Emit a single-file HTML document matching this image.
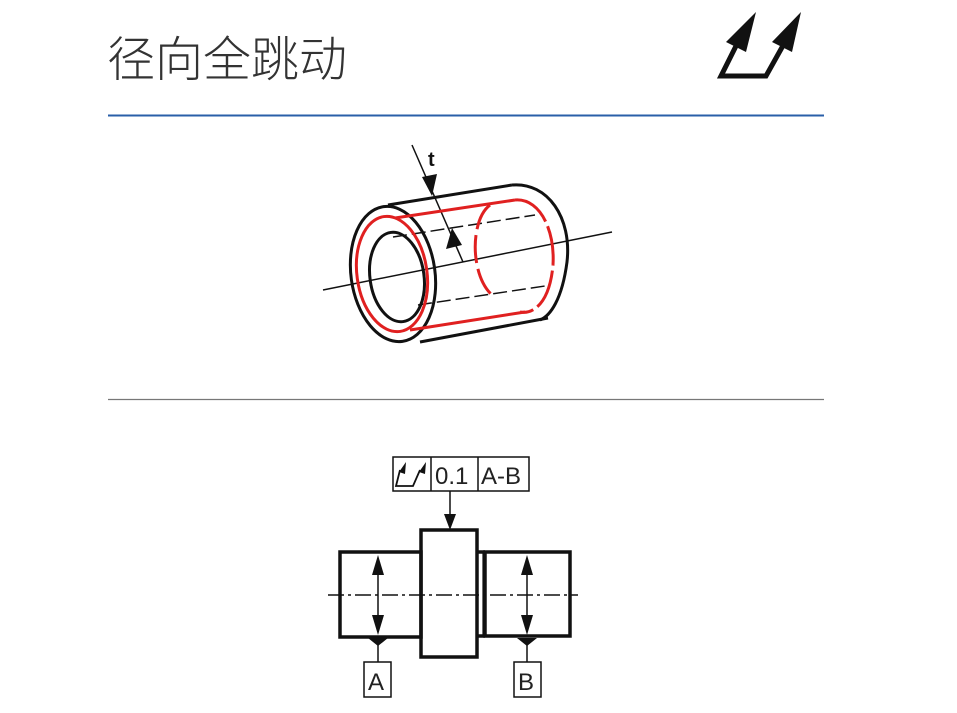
<!DOCTYPE html>
<html><head><meta charset="utf-8"><style>
body{margin:0;background:#fff;width:957px;height:713px;overflow:hidden}
.t{position:absolute;left:107px;top:20px;font-family:"Liberation Sans","Noto Sans CJK SC",sans-serif;font-size:48px;color:#333;font-weight:300}
</style></head><body>
<div class="t">径向全跳动</div>
<svg width="957" height="713" style="position:absolute;left:0;top:0">
<line x1="108" y1="115.5" x2="824" y2="115.5" stroke="#2a5fa8" stroke-width="2"/>
<line x1="108" y1="399.5" x2="824" y2="399.5" stroke="#777" stroke-width="1.2"/>
<!-- title icon -->
<g fill="#111" stroke="#111">
<polyline points="738,42 721,76 766,76 785,42" fill="none" stroke-width="5"/>
<polygon points="756,12 726,42 746,52" stroke="none"/>
<polygon points="801,12 772,42 792,52" stroke="none"/>
</g>
<!-- cylinder -->
<g fill="none" stroke="#111" stroke-width="3">
<path d="M388,205 L512,185"/>
<path d="M420,342 L548,318"/>
<path d="M512,185 C548,182 572,218 567,262 C562,300 550,316 540,320"/>
<ellipse cx="393" cy="274" rx="42" ry="68" transform="rotate(-8 393 274)" fill="#fff"/>
<ellipse cx="397" cy="277" rx="27" ry="45" transform="rotate(-8 397 277)"/>
</g>
<g fill="none" stroke="#111" stroke-width="1.5">
<line x1="323" y1="290" x2="612" y2="232"/>
<path d="M393,237 L535,215 M418,305 L545,286" stroke-dasharray="14,5"/>
<path d="M412,145 L463,262"/>
</g>
<polygon points="432,196 422,177 437,174" fill="#111"/>
<polygon points="452,228 446,249 462,245" fill="#111"/>
<text x="428" y="166" font-family="Liberation Sans,sans-serif" font-size="20" font-weight="bold" fill="#111">t</text>
<g fill="none" stroke="#e02020" stroke-width="3">
<ellipse cx="392" cy="274" rx="35" ry="58" transform="rotate(-8 392 274)"/>
<path d="M395,218 L515,200 M410,330 L525,312"/>
<path d="M515,200 C540,198 555,230 553,265 C550,300 535,315 520,312" stroke-dasharray="40,5"/>
<path d="M490,205 C470,220 470,275 492,295" stroke-dasharray="28,6"/>
</g>
<!-- lower drawing -->
<g fill="none" stroke="#111" stroke-width="3.5">
<rect x="340" y="552" width="81" height="85"/>
<rect x="421" y="530" width="56" height="127"/>
<rect x="485" y="552" width="85" height="84"/>
<line x1="477" y1="552" x2="485" y2="552"/><line x1="477" y1="636" x2="485" y2="636"/>
</g>
<line x1="483" y1="553" x2="483" y2="635" stroke="#111" stroke-width="1.2"/>
<line x1="328" y1="595" x2="578" y2="595" stroke="#111" stroke-width="1.5" stroke-dasharray="16,4,3,4"/>
<g stroke="#111" stroke-width="1.5" fill="none">
<rect x="393" y="457" width="136" height="34"/>
<line x1="431" y1="457" x2="431" y2="491"/><line x1="478" y1="457" x2="478" y2="491"/>
<line x1="450" y1="491" x2="450" y2="515"/>
<line x1="378" y1="560" x2="378" y2="630"/><line x1="527" y1="560" x2="527" y2="630"/>
<line x1="378" y1="640" x2="378" y2="662"/><line x1="527" y1="640" x2="527" y2="662"/>
<rect x="364" y="662" width="27" height="35"/><rect x="514" y="662" width="27" height="35"/>
<polyline points="400,470 396,486 413,486 420,470" stroke-width="1.8"/>
</g>
<g fill="#111">
<polygon points="444,514 456,514 450,530"/>
<polygon points="372,575 384,575 378,555"/><polygon points="372,615 384,615 378,635"/>
<polygon points="521,575 533,575 527,555"/><polygon points="521,615 533,615 527,635"/>
<polygon points="368,638 388,638 378,646"/><polygon points="517,638 537,638 527,646"/>
<polygon points="406,462 399,472 405,474"/><polygon points="426,462 419,472 425,474"/>
</g>
<g font-family="Liberation Sans,sans-serif" font-size="24" fill="#222">
<text x="435" y="484">0.1</text>
<text x="481" y="484">A-B</text>
<text x="368" y="690">A</text>
<text x="518" y="690">B</text>
</g>
</svg>
</body></html>
